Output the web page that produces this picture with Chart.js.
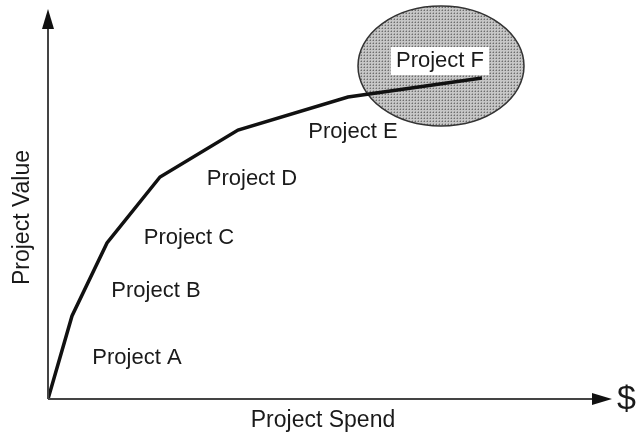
<!DOCTYPE html>
<html>
<head>
<meta charset="utf-8">
<script src="https://cdn.jsdelivr.net/npm/chart.js@4.4.0/dist/chart.umd.min.js"></script>
<style>
  html, body { margin: 0; padding: 0; background: #fff; }
  #wrap { width: 643px; height: 434px; }
</style>
</head>
<body>
<div id="wrap"><canvas id="chart"></canvas></div>
<script>
// curve points (spend vs value)
const spend = [0, 24, 59, 112, 190, 300, 434];
const value = [0, 83, 156, 222, 269, 302, 321];

// project labels and where they sit
const projects = ["Project A", "Project B", "Project C", "Project D", "Project E", "Project F"];
const labelX = [89, 108, 141, 204, 305, 392];
const labelY = [41, 108, 161, 220, 267, 338];

// highlight ring around project F
const ringX = 393, ringY = 333, ringRx = 83, ringRy = 60;

const axisMaxX = 552;
const axisMaxY = 389;
const FONT = '"Liberation Sans", Arial, Helvetica, sans-serif';

function stipple(ctx) {
  const c = document.createElement("canvas");
  c.width = 3; c.height = 3;
  const p = c.getContext("2d");
  p.fillStyle = "#c6c6c6";
  p.fillRect(0, 0, 3, 3);
  p.fillStyle = "#6e6e6e";
  p.fillRect(1, 1, 1, 1);
  p.fillStyle = "#a0a0a0";
  p.fillRect(0, 1, 1, 1);
  p.fillRect(1, 0, 1, 1);
  return ctx.createPattern(c, "repeat");
}

const ringPlugin = {
  id: "ring",
  beforeDatasetsDraw(chart) {
    const { ctx, scales } = chart;
    const x = scales.x, y = scales.y;
    const cx = x.getPixelForValue(ringX), cy = y.getPixelForValue(ringY);
    const rx = x.getPixelForValue(ringX + ringRx) - cx;
    const ry = cy - y.getPixelForValue(ringY + ringRy);
    ctx.save();
    ctx.beginPath();
    ctx.ellipse(cx, cy, rx, ry, 0, 0, Math.PI * 2);
    ctx.fillStyle = stipple(ctx);
    ctx.fill();
    ctx.lineWidth = 1.5;
    ctx.strokeStyle = "#333";
    ctx.stroke();
    ctx.restore();
  }
};

const decorPlugin = {
  id: "decor",
  afterDatasetsDraw(chart) {
    const { ctx, scales } = chart;
    const x = scales.x, y = scales.y;
    const x0 = x.getPixelForValue(0), y0 = y.getPixelForValue(0);
    const xEnd = x.getPixelForValue(axisMaxX), yEnd = y.getPixelForValue(axisMaxY);
    ctx.save();
    // axes
    ctx.strokeStyle = "#444";
    ctx.lineWidth = 2;
    ctx.beginPath();
    ctx.moveTo(x0, y0); ctx.lineTo(x0, yEnd + 14);
    ctx.moveTo(x0, y0); ctx.lineTo(xEnd - 6, y0);
    ctx.stroke();
    // arrowheads
    ctx.fillStyle = "#111";
    ctx.beginPath();
    ctx.moveTo(x0, yEnd - 1);
    ctx.lineTo(x0 - 6, yEnd + 19);
    ctx.lineTo(x0 + 6, yEnd + 19);
    ctx.closePath();
    ctx.fill();
    ctx.beginPath();
    ctx.moveTo(xEnd + 12, y0);
    ctx.lineTo(xEnd - 8, y0 - 6);
    ctx.lineTo(xEnd - 8, y0 + 6);
    ctx.closePath();
    ctx.fill();

    // project labels
    ctx.font = "22px " + FONT;
    ctx.textAlign = "center";
    ctx.textBaseline = "middle";
    projects.forEach((name, i) => {
      const px = x.getPixelForValue(labelX[i]);
      const py = y.getPixelForValue(labelY[i]);
      if (i === projects.length - 1) {
        const w = ctx.measureText(name).width + 10;
        ctx.fillStyle = "#fff";
        ctx.fillRect(px - w / 2, py - 14, w, 28);
      }
      ctx.fillStyle = "#1a1a1a";
      ctx.fillText(name, px, py);
    });

    // axis titles
    ctx.font = "23px " + FONT;
    ctx.fillText("Project Spend", (x0 + xEnd) / 2 - 1, y0 + 22);
    ctx.save();
    ctx.translate(x0 - 25, (y0 + yEnd) / 2 + 13);
    ctx.rotate(-Math.PI / 2);
    ctx.fillText("Project Value", 0, 0);
    ctx.restore();
    ctx.font = "34px " + FONT;
    ctx.textAlign = "left";
    ctx.fillText("$", xEnd + 17, y0 + 1);
    ctx.restore();
  }
};

new Chart(document.getElementById("chart"), {
  type: "line",
  data: {
    datasets: [{
      data: spend.map((s, i) => ({ x: s, y: value[i] })),
      borderColor: "#111",
      borderWidth: 3.5,
      pointRadius: 0,
      tension: 0,
      fill: false
    }]
  },
  options: {
    responsive: true,
    maintainAspectRatio: false,
    animation: false,
    layout: { padding: { left: 48, right: 43, top: 10, bottom: 35 } },
    plugins: { legend: { display: false }, tooltip: { enabled: false } },
    scales: {
      x: { type: "linear", min: 0, max: axisMaxX, display: false },
      y: { type: "linear", min: 0, max: axisMaxY, display: false }
    }
  },
  plugins: [ringPlugin, decorPlugin]
});
</script>
</body>
</html>
